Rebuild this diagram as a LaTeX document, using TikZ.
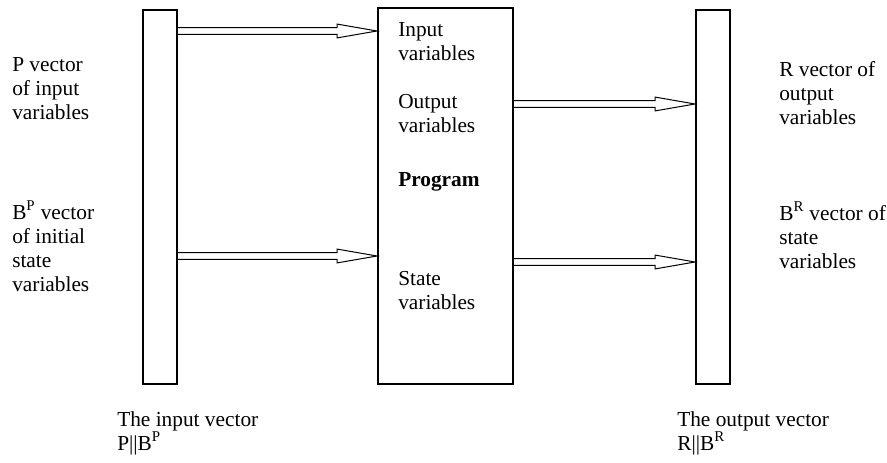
\documentclass[tikz,border=0pt]{standalone}
\usepackage{fontspec}
\setmainfont{Liberation Serif}
\usetikzlibrary{positioning}

\def\px{0.75pt}

\tikzset{
  box/.style={draw, line width=1.4pt, anchor=north west, inner sep=0pt},
  txt/.style={anchor=base west, align=left, inner sep=0pt,
    font=\fontsize{16}{18}\selectfont},
  hollow/.style={line width=0.75pt, line join=miter,
    to path={([yshift=2.6pt]\tikztostart) -- ([xshift=-30pt,yshift=2.6pt]\tikztotarget)
      -- ([xshift=-30pt,yshift=5.2pt]\tikztotarget) -- (\tikztotarget)
      -- ([xshift=-30pt,yshift=-5.2pt]\tikztotarget) -- ([xshift=-30pt,yshift=-2.6pt]\tikztotarget)
      -- ([yshift=-2.6pt]\tikztostart)}}
}

\begin{document}
\begin{tikzpicture}[x=\px, y=-\px]
  \useasboundingbox (0,0) rectangle (887,463);

  % the two vectors and the program
  \node[box, minimum width=34*\px, minimum height=374*\px] (inbar) at (142,9) {};
  \node[box, minimum width=135*\px, minimum height=376*\px] (prog) at (377,7) {};
  \node[box, minimum width=34*\px, minimum height=374*\px] (outbar) at (695,9) {};

  % texts (anchored at the baseline of their last line)
  \node[txt] (pvec) at (12,120) {P vector\\of input\\variables};
  \node[txt] (bpvec) at (12,291) {B\textsuperscript{P} vector\\of initial\\state\\variables};
  \node[txt] (invar) at (398,61) {Input\\variables};
  \node[txt] (outvar) at (398,133) {Output\\variables};
  \node[txt, font=\fontsize{16}{18}\selectfont\bfseries] (progname) at (398,186) {Program};
  \node[txt] (statevar) at (398,309) {State\\variables};
  \node[txt] (rvec) at (779,125) {R vector of\\output\\variables};
  \node[txt] (brvec) at (779,268) {B\textsuperscript{R} vector of\\state\\variables};
  \node[txt] (invec) at (117,450) {The input vector\\P||B\textsuperscript{P}};
  \node[txt] (outvec) at (677,450) {The output vector\\R||B\textsuperscript{R}};

  % arrows
  \coordinate (a1) at (176,31);
  \coordinate (a2) at (176,256);
  \coordinate (b1) at (512,104);
  \coordinate (b2) at (512,262);
  \draw[hollow] (a1) to (prog.west |- a1);
  \draw[hollow] (a2) to (prog.west |- a2);
  \draw[hollow] (b1) to (outbar.west |- b1);
  \draw[hollow] (b2) to (outbar.west |- b2);
\end{tikzpicture}
\end{document}
